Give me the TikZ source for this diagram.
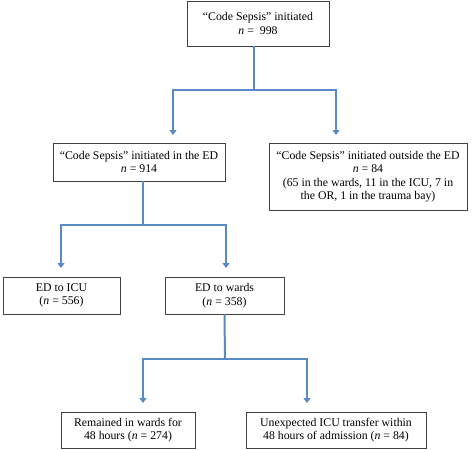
\documentclass[tikz,border=0pt]{standalone}
\usepackage{fontspec}
\setmainfont{Liberation Serif}
\usetikzlibrary{arrows.meta}
\definecolor{conncol}{HTML}{5A8AC6}
\definecolor{boxcol}{HTML}{404040}
\tikzset{
  box/.style={draw=boxcol, line width=0.8pt, align=center, inner sep=0pt,
    font=\fontsize{11.8}{13.4}\selectfont, text=black},
  conn/.style={draw=conncol, line width=2pt},
  arr/.style={conn, -{Triangle[width=7pt,length=5pt]}},
}
\begin{document}
\begin{tikzpicture}[x=1pt,y=1pt]
\useasboundingbox (0,0) rectangle (472,-450);
\node[box, minimum width=142pt, minimum height=45pt] (top) at (258,-23.5)
  {“Code Sepsis” initiated\\\textit{n} =~ 998};
\node[box, minimum width=172pt, minimum height=38pt] (ined) at (139,-162)
  {“Code Sepsis” initiated in the ED\\\textit{n} = 914};
\node[box, minimum width=198pt, minimum height=67pt] (outed) at (368,-176.5)
  {“Code Sepsis” initiated outside the ED\\\textit{n} = 84\\(65 in the wards, 11 in the ICU, 7 in\\the OR, 1 in the trauma bay)};
\node[box, minimum width=117pt, minimum height=37pt] (icu) at (61.5,-295.5)
  {ED to ICU\\(\textit{n} = 556)};
\node[box, minimum width=119pt, minimum height=37pt] (wards) at (224.5,-295.5)
  {ED to wards\\(\textit{n} = 358)};
\node[box, minimum width=134pt, minimum height=36pt] (rem) at (128,-430)
  {Remained in wards for\\48 hours (\textit{n} = 274)};
\node[box, minimum width=180pt, minimum height=36pt] (unexp) at (336,-430)
  {Unexpected ICU transfer within\\48 hours of admission (\textit{n} = 84)};

\coordinate (j1) at (254,-90);
\coordinate (a1l) at (173,-135);
\coordinate (a1r) at (336,-135);
\coordinate (j2) at (143,-225);
\coordinate (a2l) at (61,-268);
\coordinate (a2r) at (226,-268);
\coordinate (j3) at (225,-359);
\coordinate (a3l) at (143,-403);
\coordinate (a3r) at (307,-403);

\draw[conn] ([xshift=-4pt]top.south) -- (j1);
\draw[arr] (j1) -| (a1l);
\draw[arr] (j1) -| (a1r);
\draw[conn] ([xshift=4pt]ined.south) -- (j2);
\draw[arr] (j2) -| (a2l);
\draw[arr] (j2) -| (a2r);
\draw[conn] (wards.south) -- (j3);
\draw[arr] (j3) -| (a3l);
\draw[arr] (j3) -| (a3r);
\end{tikzpicture}
\end{document}
